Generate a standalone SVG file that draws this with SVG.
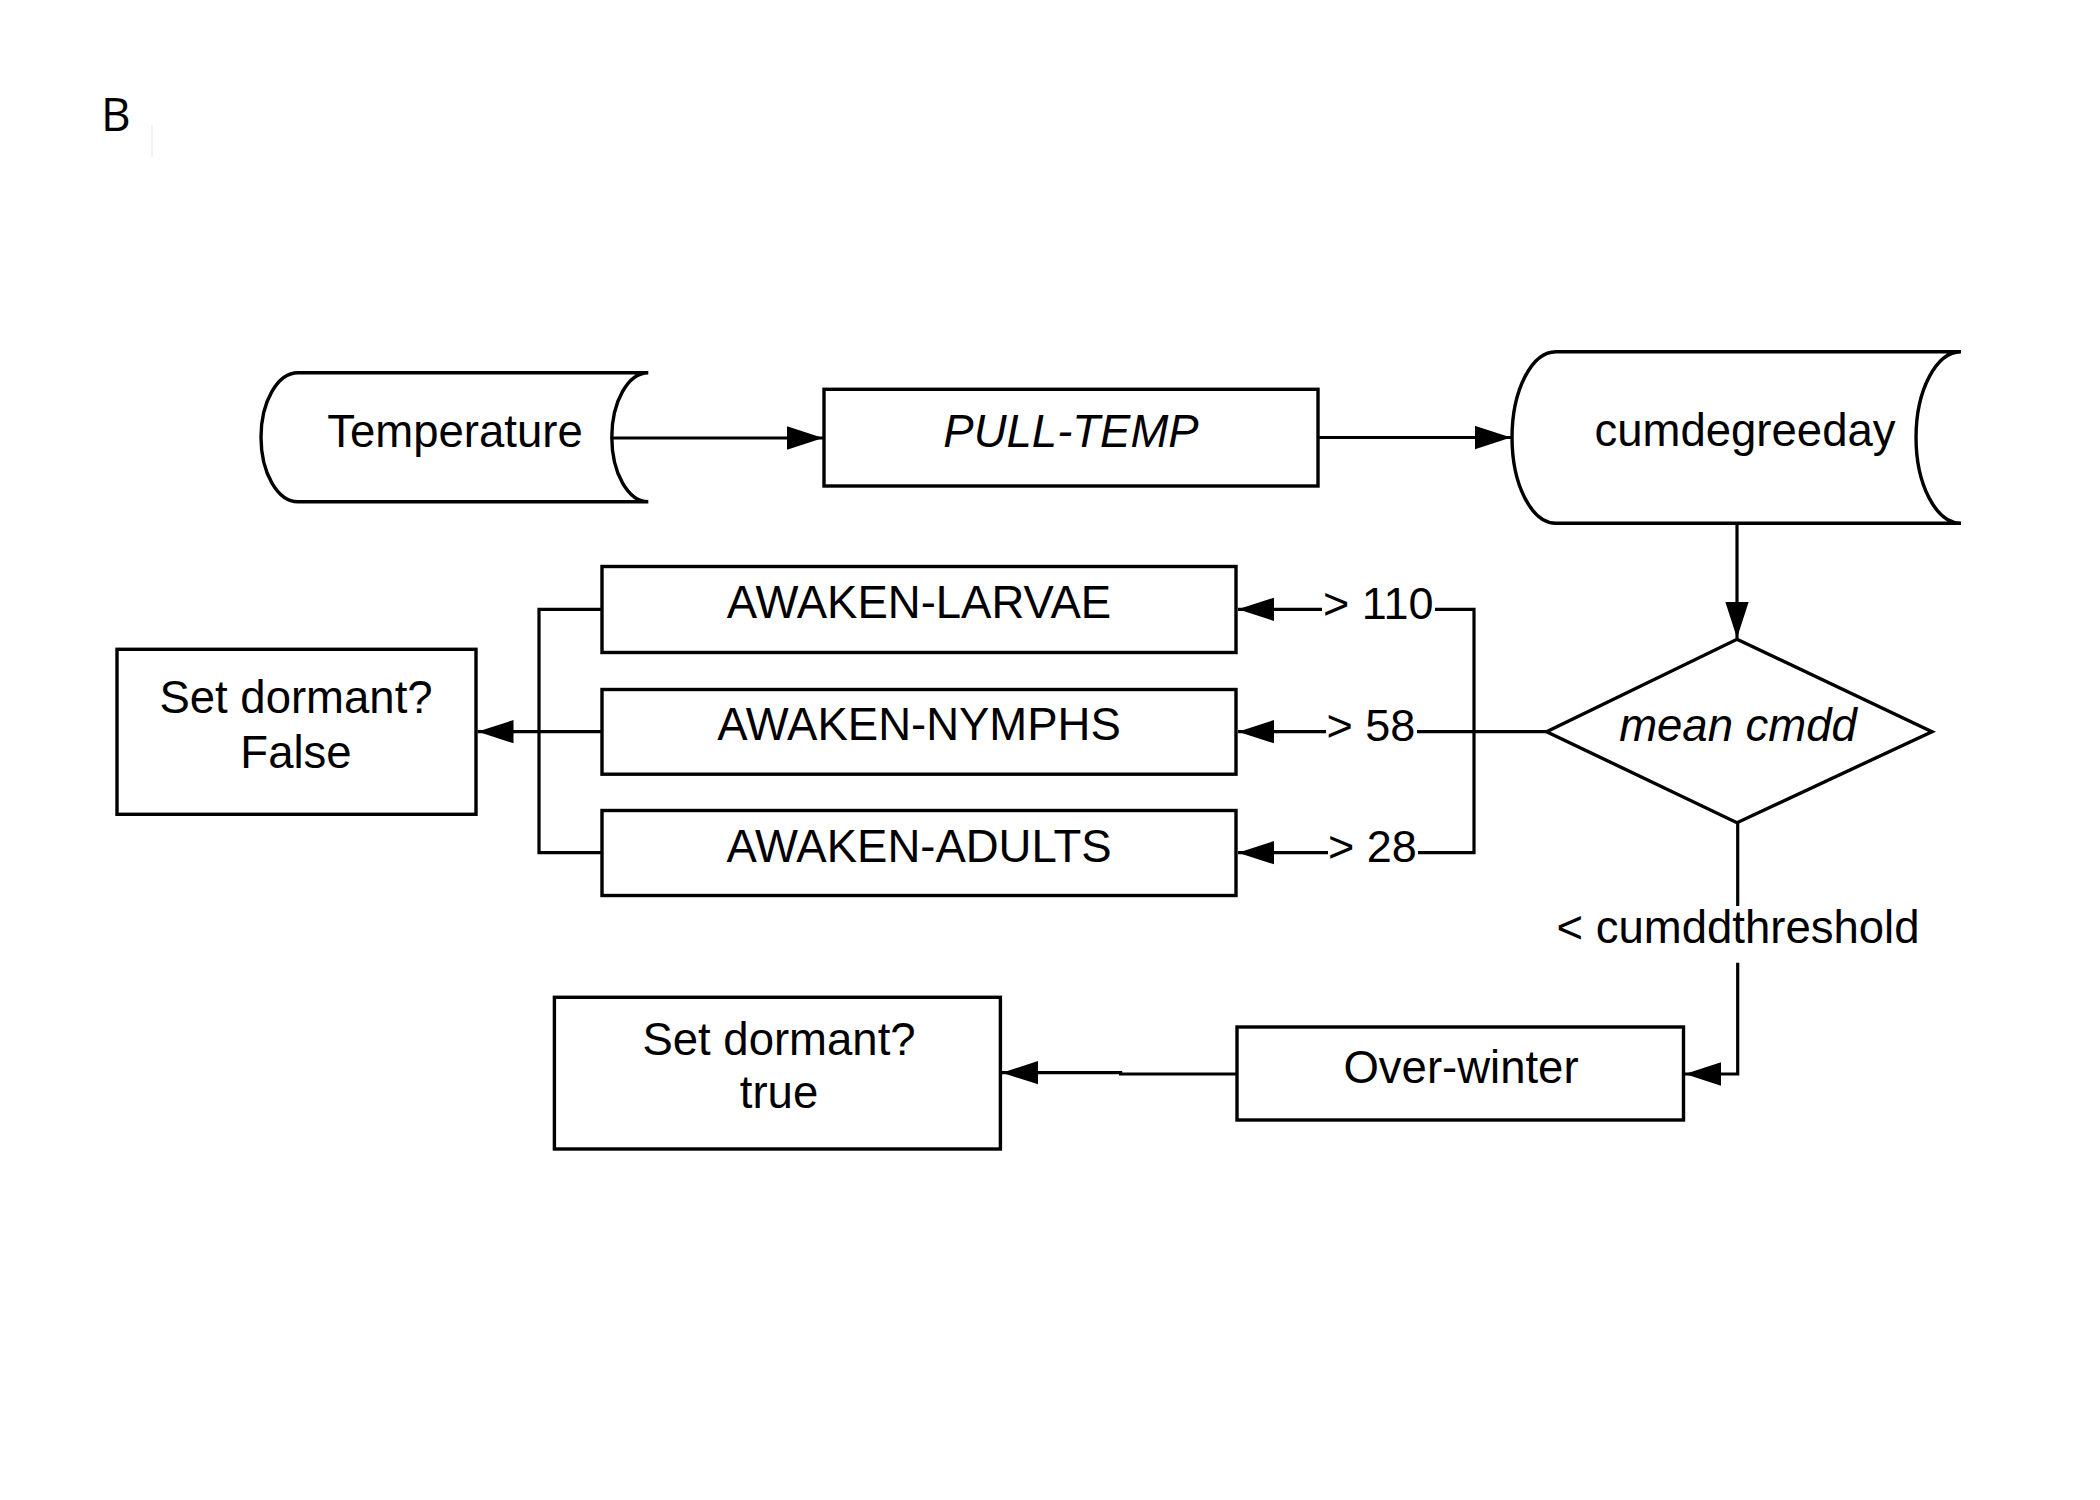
<svg xmlns="http://www.w3.org/2000/svg" width="2100" height="1500" viewBox="0 0 2100 1500">
<style>
.shape{fill:#fff;stroke:#000;stroke-width:3.4}
.conn{fill:none;stroke:#000;stroke-width:3.2}
.t{font-family:"Liberation Sans",Arial,sans-serif;font-size:45.5px;fill:#000;text-anchor:middle}
.i{font-style:italic}
.lbl{font-family:"Liberation Sans",Arial,sans-serif;font-size:45px;fill:#000}
</style>
<defs>
<marker id="arr" markerUnits="userSpaceOnUse" markerWidth="36" markerHeight="24" viewBox="0 0 34 22" refX="34" refY="11" orient="auto">
<path d="M0,0 L34,11 L0,22 z" fill="#000"/>
</marker>
</defs>
<rect width="2100" height="1500" fill="#fff"/>
<text x="101" y="130.7" style="font-family:'Open Sans','Noto Sans',sans-serif;font-size:46px;fill:#000">B</text>
<line x1="152" y1="125" x2="152" y2="157" stroke="#e6e6e6" stroke-width="1"/>

<g id="connectors">
<path class="conn" d="M612,438 H823" marker-end="url(#arr)"/>
<path class="conn" d="M1319,437.5 H1511" marker-end="url(#arr)"/>
<path class="conn" d="M1737,523.3 V638" marker-end="url(#arr)"/>
<path class="conn" d="M1546.6,731.7 H1417"/>
<path class="conn" d="M1326,731.7 H1238" marker-end="url(#arr)"/>
<path class="conn" d="M1435,609.3 H1474 V852.7 H1418"/>
<path class="conn" d="M1322,609.3 H1238" marker-end="url(#arr)"/>
<path class="conn" d="M1328,852.7 H1238" marker-end="url(#arr)"/>
<path class="conn" d="M602,609.3 H539 V852.7 H602"/>
<path class="conn" d="M602,731.7 H477.5" marker-end="url(#arr)"/>
<path class="conn" d="M1737.7,823 V906"/>
<path class="conn" d="M1737.7,962.7 V1074 H1685" marker-end="url(#arr)"/>
<path class="conn" d="M1237,1074 H1120.6 V1072.7 H1002" marker-end="url(#arr)"/>
<text class="lbl" x="1323" y="619">&gt; 110</text>
<text class="lbl" x="1326.5" y="741">&gt; 58</text>
<text class="lbl" x="1328" y="862">&gt; 28</text>
<text class="t" x="1738" y="943.3">&lt; cumddthreshold</text>
</g>

<g id="temperature">
<path class="shape" d="M298,372.7 H648.3 A36.5,64.5 0 0 0 648.3,501.7 H298 A37,64.5 0 0 1 298,372.7 Z"/>
<text class="t" x="455" y="447">Temperature</text>
</g>

<g id="pull-temp">
<rect class="shape" x="824" y="389.3" width="494" height="96.7"/>
<text class="t i" x="1071" y="447">PULL-TEMP</text>
</g>

<g id="cumdegreeday">
<path class="shape" d="M1556,351.7 H1961 A45,85.8 0 0 0 1961,523.3 H1556 A44,85.8 0 0 1 1556,351.7 Z"/>
<text class="t" x="1745" y="446">cumdegreeday</text>
</g>

<g id="mean-cmdd">
<polygon class="shape" points="1737,639.3 1932,731.7 1737,822.7 1546.6,731.7"/>
<text class="t i" x="1738" y="740.7">mean cmdd</text>
</g>

<g id="awaken-larvae">
<rect class="shape" x="602" y="566.5" width="634" height="86"/>
<text class="t" x="919" y="618">AWAKEN-LARVAE</text>
</g>

<g id="awaken-nymphs">
<rect class="shape" x="602" y="689.5" width="634" height="84.7"/>
<text class="t" x="919" y="740">AWAKEN-NYMPHS</text>
</g>

<g id="awaken-adults">
<rect class="shape" x="602" y="810.5" width="634" height="85"/>
<text class="t" x="919" y="861.7">AWAKEN-ADULTS</text>
</g>

<g id="set-dormant-false">
<rect class="shape" x="117" y="649.3" width="359" height="165"/>
<text class="t" x="296" y="712.7">Set dormant?</text>
<text class="t" x="296" y="768.3">False</text>
</g>

<g id="over-winter">
<rect class="shape" x="1237" y="1027" width="446.5" height="93"/>
<text class="t" x="1461" y="1083.3">Over-winter</text>
</g>

<g id="set-dormant-true">
<rect class="shape" x="554.4" y="997.3" width="446" height="151.7"/>
<text class="t" x="779" y="1055">Set dormant?</text>
<text class="t" x="779" y="1108">true</text>
</g>
</svg>
